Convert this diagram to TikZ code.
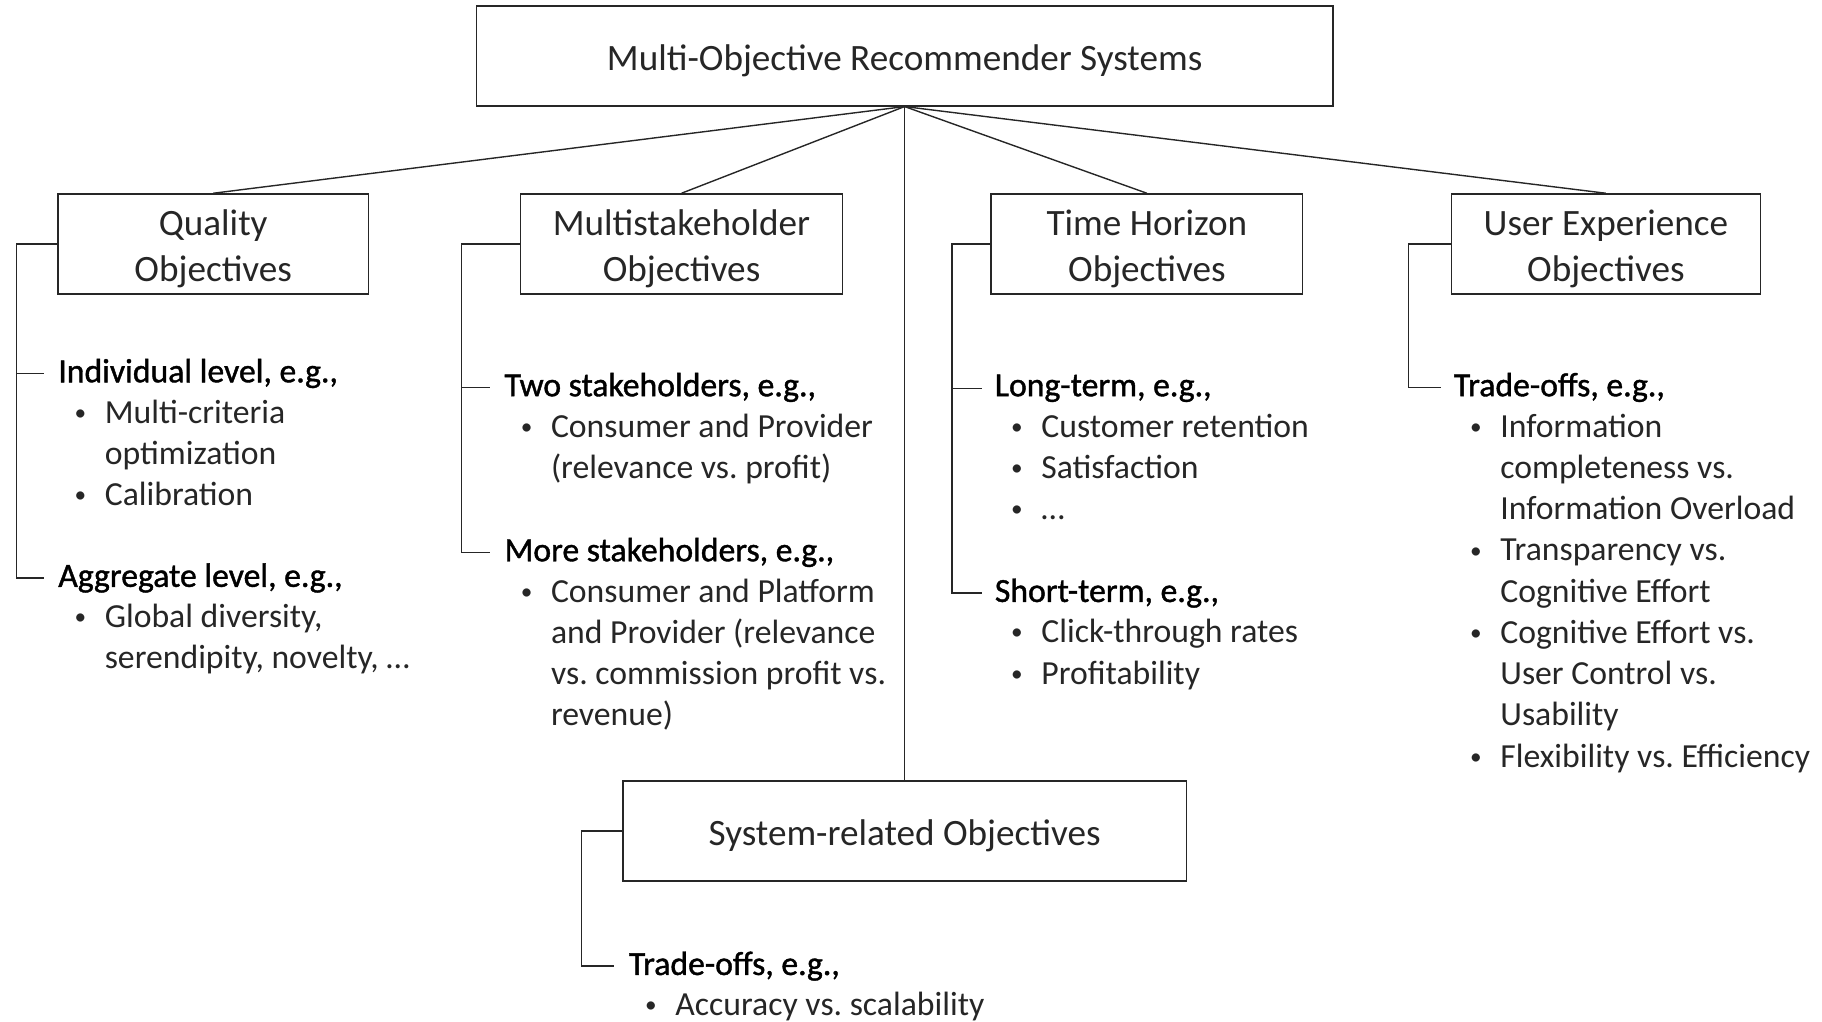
\documentclass[tikz,border=0pt]{standalone}
\usepackage{fontspec}
\setmainfont{Carlito}
\newfontfamily\headfam[FakeBold=1.2]{Carlito}
\frenchspacing
\newcommand\titlefont{\fontsize{32}{40}\selectfont}
\newcommand\bodyfont{\fontsize{29}{35.5}\selectfont}
\newcommand\headfont{\headfam\fontsize{29}{35.5}\selectfont}
\newcommand\B{\makebox[40pt][l]{\hspace*{14pt}\raisebox{2.5pt}{\fontsize{20}{20}\selectfont\textbullet}}}
\newcommand\C{\hspace*{40pt}}
\newcommand\R{\rule{0pt}{24pt}}
\newcommand\T{\rule{0pt}{30pt}}
\begin{document}
\begin{tikzpicture}[x=1pt,y=1pt,
  box/.style={draw=black!85, line width=1.4pt, minimum height=86pt, inner sep=0pt, font=\titlefont, align=center, text=black!85},
  conn/.style={draw=black!85, line width=1.2pt},
  head/.style={anchor=base west, inner sep=0pt, font=\headfont, text=black},
  items/.style={anchor=north west, inner sep=0pt, font=\bodyfont, align=left, text=black!85}]
\useasboundingbox (0,0) rectangle (1568,-879);
% boxes
\node[box, minimum width=737pt] (top) at (778.5,-48) {\T Multi-Objective Recommender Systems};
\node[box, minimum width=267pt] (q) at (183.5,-210) {\T Quality\\Objectives};
\node[box, minimum width=277pt] (m) at (586.5,-210) {\T Multistakeholder\\Objectives};
\node[box, minimum width=268pt] (t) at (987,-210) {\T Time Horizon\\Objectives};
\node[box, minimum width=266pt] (u) at (1382,-210) {\T User Experience\\Objectives};
\node[box, minimum width=485pt] (s) at (778.5,-715) {\T System-related Objectives};
% tree connectors
\draw[conn] (top.south) -- (q.north);
\draw[conn] (top.south) -- (m.north);
\draw[conn] (top.south) -- (t.north);
\draw[conn] (top.south) -- (u.north);
\draw[conn] (top.south) -- (s.north);
% Quality column
\node[head] (q1) at (50,-329) {Individual level, e.g.,};
\node[items] (q1i) at (50,-340) {\R\B Multi-criteria\\\C optimization\\\B Calibration};
\node[head] (q2) at (50,-505) {Aggregate level, e.g.,};
\node[items] (q2i) at (50,-516) {\R\B Global diversity,\\\C serendipity, novelty, …};
\draw[conn] (q.west) -- ++(-35,0) coordinate (qv) |- ([xshift=-12pt]q2.west);
\draw[conn] (qv) |- ([xshift=-12pt]q1.west);
% Multistakeholder column
\node[head] (m1) at (434,-341) {Two stakeholders, e.g.,};
\node[items] (m1i) at (434,-352) {\R\B Consumer and Provider\\\C (relevance vs. profit)};
\node[head] (m2) at (434,-483) {More stakeholders, e.g.,};
\node[items] (m2i) at (434,-494) {\R\B Consumer and Platform\\\C and Provider (relevance\\\C vs. commission profit vs.\\\C revenue)};
\draw[conn] (m.west) -- ++(-50,0) coordinate (mv) |- ([xshift=-12pt]m2.west);
\draw[conn] (mv) |- ([xshift=-12pt]m1.west);
% Time horizon column
\node[head] (t1) at (856,-341) {Long-term, e.g.,};
\node[items] (t1i) at (856,-352) {\R\B Customer retention\\\B Satisfaction\\\B …};
\node[head] (t2) at (856,-518) {Short-term, e.g.,};
\node[items] (t2i) at (856,-529) {\R\B Click-through rates\\\B Profitability};
\draw[conn] (t.west) -- ++(-33,0) coordinate (tv) |- ([xshift=-11pt]t2.west);
\draw[conn] (tv) |- ([xshift=-11pt]t1.west);
% User experience column
\node[head] (u1) at (1251,-341) {Trade-offs, e.g.,};
\node[items] (u1i) at (1251,-352) {\R\B Information\\\C completeness vs.\\\C Information Overload\\\B Transparency vs.\\\C Cognitive Effort\\\B Cognitive Effort vs.\\\C User Control vs.\\\C Usability\\\B Flexibility vs. Efficiency};
\draw[conn] (u.west) -- ++(-36,0) |- ([xshift=-11pt]u1.west);
% System column
\node[head] (s1) at (541,-839) {Trade-offs, e.g.,};
\node[items] (s1i) at (541,-850) {\R\B Accuracy vs. scalability};
\draw[conn] (s.west) -- ++(-35,0) |- ([xshift=-13pt]s1.west);
\end{tikzpicture}
\end{document}
